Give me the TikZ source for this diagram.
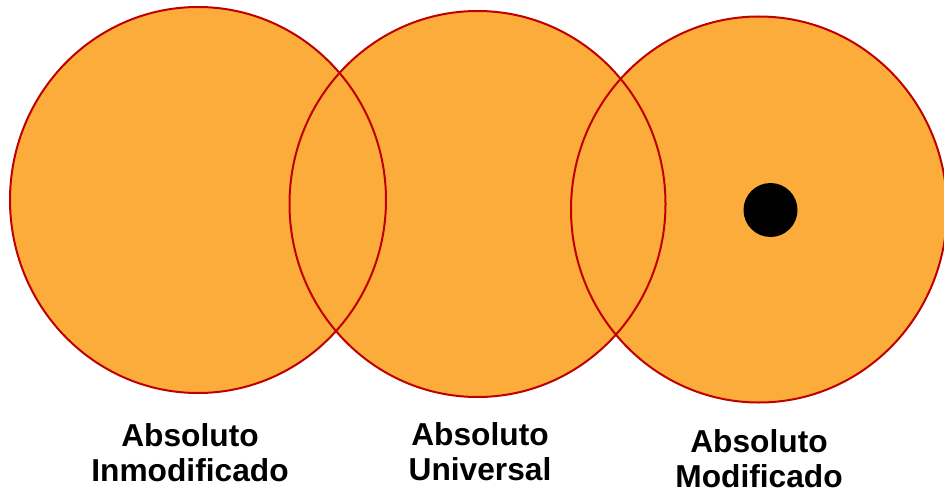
\documentclass[tikz,border=0pt]{standalone}
\usepackage{fontspec}
\setmainfont{Liberation Sans}
\usepackage{tikz}
\usepackage{xcolor}
\usetikzlibrary{shapes.geometric}
\usetikzlibrary{positioning}

\definecolor{discfill}{RGB}{252,172,58}
\definecolor{discrim}{RGB}{192,0,0}

\begin{document}
\begin{tikzpicture}[x=1pt,y=-1pt,
  disc/.style={ellipse,inner sep=0pt,minimum width=376pt,minimum height=386pt,fill=discfill,name=#1},
  rim/.style={draw=discrim,line width=2pt},
  caption/.style={align=center,font=\fontsize{31.7}{35}\selectfont\bfseries}]
\useasboundingbox (0,0) rectangle (944,495);
\node[disc=inmod] at (198,200) {};
\node[disc=univ] at (477.5,204) {};
\node[disc=modif] at (759,209.5) {};
\foreach \n in {inmod,univ,modif}
  \draw[rim] (\n.center) ellipse (188pt and 193pt);

\node[circle,fill=black,minimum size=54pt,inner sep=0pt,name=spot] at (770.5,210) {};

\node[caption,name=capinmod] at (190,453) {Absoluto\\Inmodificado};
\node[caption,name=capuniv] at (480,452) {Absoluto\\Universal};
\node[caption,name=capmodif] at (759,459) {Absoluto\\Modificado};
\end{tikzpicture}
\end{document}
